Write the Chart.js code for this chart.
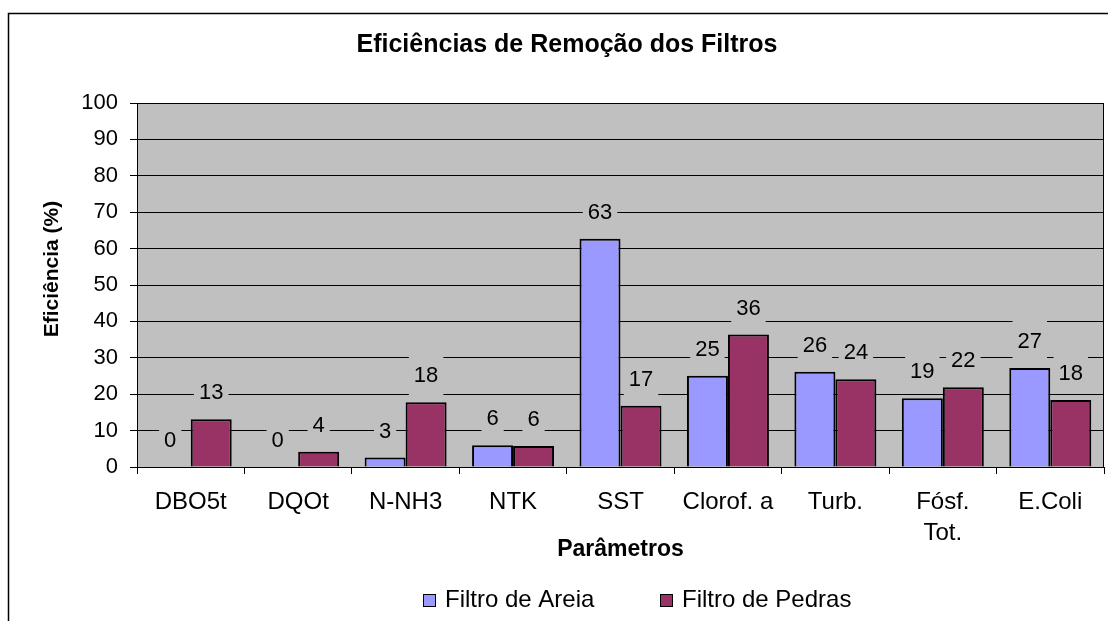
<!DOCTYPE html>
<html lang="pt">
<head>
<meta charset="UTF-8">
<title>Eficiências de Remoção dos Filtros</title>
<script src="https://cdn.jsdelivr.net/npm/chart.js"></script>
<style>
  html, body { margin: 0; padding: 0; background: #fff; }
  #wrap { width: 1108px; height: 621px; }
</style>
</head>
<body>
<div id="wrap"><canvas id="grafico" width="1108" height="621"></canvas></div>
<script>
// dados
var parametros = ['DBO5t', 'DQOt', 'N-NH3', 'NTK', 'SST', 'Clorof. a', 'Turb.', ['Fósf.', 'Tot.'], 'E.Coli'];
var filtroAreia = [0, 0, 2.6, 6.0, 62.7, 25.1, 26.2, 18.9, 27.2];
var filtroPedras = [13.1, 4.2, 17.8, 5.8, 16.8, 36.4, 24.1, 21.9, 18.4];
var eixoY = { min: 0, max: 100, passo: 10 };

var CINZA = '#C0C0C0';
var FONTE = '"Liberation Sans", Arial, sans-serif';

/* fundo, moldura, rótulos de valor, título do eixo y e legenda */
var extras = {
  id: 'extras',
  beforeDraw: function (chart) {
    var ctx = chart.ctx, a = chart.chartArea;
    ctx.save();
    ctx.fillStyle = '#fff';
    ctx.fillRect(0, 0, chart.width, chart.height);
    ctx.strokeStyle = '#000';
    ctx.lineWidth = 1.5;
    ctx.strokeRect(8.5, 13.5, chart.width + 20, chart.height + 20);
    ctx.fillStyle = CINZA;
    ctx.fillRect(a.left, a.top, a.right - a.left, a.bottom - a.top);
    ctx.restore();
  },
  beforeDatasetsDraw: function (chart) {
    var ctx = chart.ctx, a = chart.chartArea;
    ctx.save();
    ctx.strokeStyle = '#000';
    ctx.lineWidth = 1;
    ctx.beginPath();
    ctx.moveTo(Math.round(a.right) - 0.5, a.bottom);
    ctx.lineTo(Math.round(a.right) - 0.5, a.top);
    ctx.stroke();
    ctx.restore();
  },
  afterDatasetsDraw: function (chart) {
    var ctx = chart.ctx;
    ctx.save();
    ctx.font = '22px ' + FONTE;
    ctx.textAlign = 'center';
    ctx.textBaseline = 'middle';
    chart.data.datasets.forEach(function (ds, i) {
      chart.getDatasetMeta(i).data.forEach(function (bar, j) {
        var txt = String(Math.round(ds.data[j]));
        var w = ctx.measureText(txt).width + 10;
        var y = bar.y - 27;
        ctx.fillStyle = CINZA;
        ctx.fillRect(bar.x - w / 2, y - 20, w, 40);
        ctx.fillStyle = '#000';
        ctx.fillText(txt, bar.x, y + 1);
      });
    });
    ctx.restore();
  },
  afterDraw: function (chart) {
    var ctx = chart.ctx;
    ctx.save();
    // título do eixo y
    ctx.translate(52, 269);
    ctx.rotate(-Math.PI / 2);
    ctx.font = 'bold 21px ' + FONTE;
    ctx.fillStyle = '#000';
    ctx.textAlign = 'center';
    ctx.textBaseline = 'middle';
    ctx.fillText('Eficiência (%)', 0, 0);
    ctx.restore();

    // legenda
    ctx.save();
    ctx.font = '24px ' + FONTE;
    ctx.textBaseline = 'middle';
    var xs = [423, 660];
    chart.data.datasets.forEach(function (ds, i) {
      ctx.fillStyle = ds.backgroundColor;
      ctx.fillRect(xs[i], 594, 12, 12);
      ctx.strokeStyle = '#000';
      ctx.lineWidth = 1;
      ctx.strokeRect(xs[i] + 0.5, 594.5, 12, 12);
      ctx.fillStyle = '#000';
      ctx.fillText(ds.label, xs[i] + 22, 600);
    });
    ctx.restore();
  }
};

var ctx = document.getElementById('grafico').getContext('2d');
var grafico = new Chart(ctx, {
  type: 'bar',
  data: {
    labels: parametros,
    datasets: [{
      label: 'Filtro de Areia',
      data: filtroAreia,
      backgroundColor: '#9999FF',
      borderColor: '#000',
      borderWidth: 2,
      categoryPercentage: 0.763,
      barPercentage: 1.0
    }, {
      label: 'Filtro de Pedras',
      data: filtroPedras,
      backgroundColor: '#993366',
      borderColor: '#000',
      borderWidth: 2,
      categoryPercentage: 0.763,
      barPercentage: 1.0
    }]
  },
  options: {
    responsive: false,
    animation: false,
    layout: { padding: { left: 30, right: 4, top: 0, bottom: 0 } },
    plugins: {
      legend: { display: false },
      tooltip: { enabled: false },
      title: {
        display: true,
        text: 'Eficiências de Remoção dos Filtros',
        color: '#000',
        font: { family: FONTE, size: 25, weight: 'bold' },
        padding: { top: 30, bottom: 43 }
      }
    },
    scales: {
      x: {
        afterFit: function (s) { s.height = 154; },
        grid: { display: true, drawOnChartArea: false, drawTicks: true, tickLength: 7, color: '#000', offset: true },
        border: { display: true, color: '#000', width: 1 },
        ticks: { color: '#000', padding: 12.5, maxRotation: 0, autoSkip: false, font: { family: FONTE, size: 24, lineHeight: 1.3 } },
        title: {
          display: true,
          text: 'Parâmetros',
          color: '#000',
          font: { family: FONTE, size: 23, weight: 'bold' },
          padding: { top: 4, bottom: 58 }
        }
      },
      y: {
        min: eixoY.min,
        max: eixoY.max,
        afterFit: function (s) { s.width = 107; },
        grid: { color: '#000', lineWidth: 1, tickLength: 7 },
        border: { display: true, color: '#000', width: 1 },
        ticks: { stepSize: eixoY.passo, color: '#000', padding: 12, font: { family: FONTE, size: 22 } }
      }
    }
  },
  plugins: [extras]
});
</script>
</body>
</html>
